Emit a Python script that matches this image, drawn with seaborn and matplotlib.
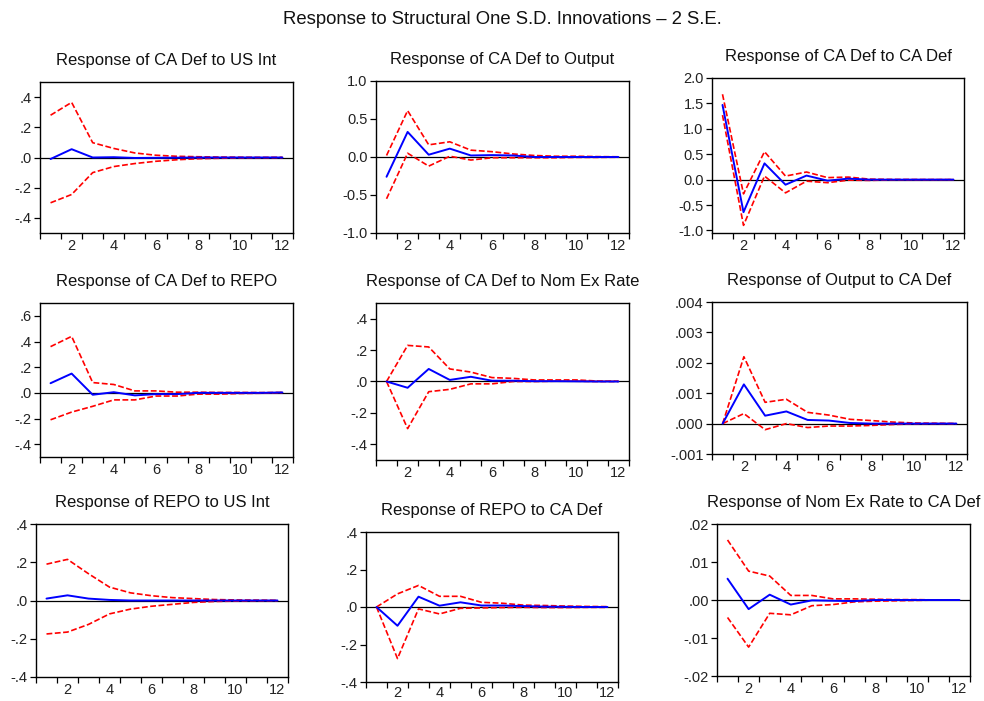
import numpy as np
import pandas as pd
import matplotlib
matplotlib.use("Agg")
import matplotlib.pyplot as plt
import seaborn as sns

# ---------------- data ----------------
steps = list(range(1, 13))

suptitle = "Response to Structural One S.D. Innovations \u2013 2 S.E."

titles = [
    "Response of CA Def to US Int",
    "Response of CA Def to Output",
    "Response of CA Def to CA Def",
    "Response of CA Def to REPO",
    "Response of CA Def to Nom Ex Rate",
    "Response of Output to CA Def",
    "Response of REPO to US Int",
    "Response of REPO to CA Def",
    "Response of Nom Ex Rate to CA Def",
]

p1_resp  = [-0.01, 0.055, 0.0, 0.002, -0.003, -0.002, -0.001, 0.0, 0.0, 0.0, 0.0, 0.0]
p1_upper = [0.28, 0.365, 0.098, 0.06, 0.03, 0.015, 0.008, 0.005, 0.003, 0.002, 0.001, 0.001]
p1_lower = [-0.30, -0.245, -0.10, -0.06, -0.04, -0.025, -0.015, -0.008, -0.005, -0.003, -0.002, -0.001]

p2_resp  = [-0.26, 0.33, 0.03, 0.11, 0.02, 0.025, 0.02, 0.0, 0.0, 0.0, 0.0, 0.0]
p2_upper = [0.02, 0.61, 0.16, 0.20, 0.09, 0.07, 0.04, 0.02, 0.01, 0.01, 0.005, 0.003]
p2_lower = [-0.55, 0.05, -0.12, 0.01, -0.04, -0.01, -0.01, -0.01, -0.01, -0.005, -0.005, -0.003]

p3_resp  = [1.47, -0.64, 0.32, -0.10, 0.08, -0.02, 0.02, 0.0, 0.0, 0.0, 0.0, 0.0]
p3_upper = [1.68, -0.28, 0.55, 0.07, 0.15, 0.04, 0.05, 0.01, 0.005, 0.003, 0.002, 0.001]
p3_lower = [1.27, -0.90, 0.07, -0.26, -0.03, -0.06, -0.01, -0.015, -0.005, -0.003, -0.002, -0.001]

p4_resp  = [0.075, 0.15, -0.015, 0.005, -0.02, -0.01, -0.01, 0.0, 0.0, 0.0, 0.0, 0.003]
p4_upper = [0.36, 0.44, 0.08, 0.065, 0.015, 0.015, 0.005, 0.005, 0.003, 0.003, 0.002, 0.003]
p4_lower = [-0.21, -0.15, -0.105, -0.055, -0.055, -0.025, -0.025, -0.01, -0.01, -0.005, -0.003, 0.002]

p5_resp  = [0.0, -0.04, 0.08, 0.01, 0.03, 0.005, 0.005, 0.002, 0.002, 0.001, 0.0, 0.0]
p5_upper = [0.0, 0.23, 0.22, 0.08, 0.06, 0.025, 0.02, 0.01, 0.01, 0.01, 0.003, 0.002]
p5_lower = [0.0, -0.30, -0.065, -0.05, -0.015, -0.015, 0.0, 0.0, 0.002, 0.002, 0.0, 0.0]

p6_resp  = [0.0, 0.00129, 0.00026, 0.0004, 0.00012, 0.0001, 0.00002, 0.0, 0.0, 0.0, 0.0, 0.0]
p6_upper = [0.0, 0.0022, 0.0007, 0.0008, 0.00037, 0.00028, 0.00014, 0.0001, 0.00005, 0.00002, 0.00001, 0.0]
p6_lower = [0.0, 0.00033, -0.0002, 0.0, -0.00013, -0.00008, -0.00008, -0.00006, -0.00003, -0.00001, 0.0, 0.0]

p7_resp  = [0.01, 0.027, 0.01, 0.003, 0.0, 0.0, 0.0, 0.0, 0.0, 0.0, 0.0, 0.0]
p7_upper = [0.19, 0.215, 0.14, 0.07, 0.04, 0.025, 0.015, 0.01, 0.005, 0.003, 0.002, 0.001]
p7_lower = [-0.175, -0.165, -0.125, -0.07, -0.045, -0.03, -0.02, -0.01, -0.005, -0.003, -0.002, -0.001]

p8_resp  = [0.0, -0.10, 0.055, 0.007, 0.025, 0.008, 0.008, 0.005, 0.002, 0.001, 0.0, 0.0]
p8_upper = [0.0, 0.07, 0.115, 0.057, 0.057, 0.025, 0.02, 0.01, 0.008, 0.005, 0.003, 0.002]
p8_lower = [0.0, -0.275, -0.01, -0.037, -0.007, -0.005, -0.003, -0.002, -0.003, -0.003, -0.002, -0.002]

p9_resp  = [0.0056, -0.0024, 0.0014, -0.0012, -0.0001, -0.0002, -0.0003, 0.0, 0.0, 0.0, 0.0, 0.0]
p9_upper = [0.0158, 0.0076, 0.0063, 0.0012, 0.0012, 0.0003, 0.0003, 0.0002, 0.0001, 0.0001, 0.0, 0.0]
p9_lower = [-0.0046, -0.0124, -0.0035, -0.0039, -0.0015, -0.0012, -0.0005, -0.0003, -0.0002, -0.0001, 0.0, 0.0]

x_tick_labels = ["2", "4", "6", "8", "10", "12"]

yt_pm4 = [-0.4, -0.2, 0.0, 0.2, 0.4]
yl_pm4 = ["-.4", "-.2", ".0", ".2", ".4"]
yt_p2 = [-1.0, -0.5, 0.0, 0.5, 1.0]
yl_p2 = ["-1.0", "-0.5", "0.0", "0.5", "1.0"]
yt_p3 = [-1.0, -0.5, 0.0, 0.5, 1.0, 1.5, 2.0]
yl_p3 = ["-1.0", "-0.5", "0.0", "0.5", "1.0", "1.5", "2.0"]
yt_p4 = [-0.4, -0.2, 0.0, 0.2, 0.4, 0.6]
yl_p4 = ["-.4", "-.2", ".0", ".2", ".4", ".6"]
yt_p6 = [-0.001, 0.0, 0.001, 0.002, 0.003, 0.004]
yl_p6 = ["-.001", ".000", ".001", ".002", ".003", ".004"]
yt_p9 = [-0.02, -0.01, 0.0, 0.01, 0.02]
yl_p9 = ["-.02", "-.01", ".00", ".01", ".02"]

# ---------------- styling ----------------
sns.set_style("ticks")
plt.rcParams['font.family'] = ['Liberation Sans', 'DejaVu Sans']

W, H = 984, 701
fig = plt.figure(figsize=(W / 100, H / 100), dpi=100)

# pixel boxes: (left, top, right, bottom)
boxes = [
    (40, 82, 293, 233), (376, 81, 629, 233), (712, 78, 964, 233),
    (40, 303, 293, 457), (376, 303, 629, 460), (712, 302, 967, 454),
    (36, 524, 288, 677), (366, 532, 618, 682), (717, 524, 970, 676),
]

panels = [
    (p1_resp, p1_upper, p1_lower, yt_pm4, yl_pm4, (-0.5, 0.5)),
    (p2_resp, p2_upper, p2_lower, yt_p2, yl_p2, (-1.0, 1.0)),
    (p3_resp, p3_upper, p3_lower, yt_p3, yl_p3, (-1.05, 2.0)),
    (p4_resp, p4_upper, p4_lower, yt_p4, yl_p4, (-0.5, 0.7)),
    (p5_resp, p5_upper, p5_lower, yt_pm4, yl_pm4, (-0.5, 0.5)),
    (p6_resp, p6_upper, p6_lower, yt_p6, yl_p6, (-0.001, 0.004)),
    (p7_resp, p7_upper, p7_lower, yt_pm4, yl_pm4, (-0.4, 0.4)),
    (p8_resp, p8_upper, p8_lower, yt_pm4, yl_pm4, (-0.4, 0.4)),
    (p9_resp, p9_upper, p9_lower, yt_p9, yl_p9, (-0.02, 0.02)),
]

for i, (box, (resp, up, lo, yt, yl, ylim)) in enumerate(zip(boxes, panels)):
    l, t, r, b = box
    ax = fig.add_axes([l / W, 1 - b / H, (r - l) / W, (b - t) / H])
    df = pd.DataFrame({"step": steps, "resp": resp, "upper": up, "lower": lo})
    ax.axhline(0, color="black", lw=0.9, zorder=1)
    sns.lineplot(data=df, x="step", y="upper", ax=ax, color="#FF0000",
                 lw=1.2, linestyle=(0, (3.5, 1.5)), zorder=2)
    sns.lineplot(data=df, x="step", y="lower", ax=ax, color="#FF0000",
                 lw=1.2, linestyle=(0, (3.5, 1.5)), zorder=2)
    sns.lineplot(data=df, x="step", y="resp", ax=ax, color="#0000FF",
                 lw=1.4, zorder=3)
    ax.set_xlim(0.5, 12.5)
    ax.set_ylim(*ylim)
    ax.set_xlabel("")
    ax.set_ylabel("")
    # x ticks between steps, labels at even steps
    ax.set_xticks(np.arange(0.5, 13.0, 1.0))
    ax.set_xticklabels([])
    ax.set_xticks([2, 4, 6, 8, 10, 12], minor=True)
    ax.set_xticklabels(x_tick_labels, minor=True)
    ax.tick_params(axis="x", which="major", direction="out", length=4, width=0.9, color="black")
    ax.tick_params(axis="x", which="minor", length=0, labelsize=10.5,
                   pad=3 if i == 7 else 4, labelcolor="#222222")
    ax.set_yticks(yt)
    ax.set_yticklabels(yl)
    ax.tick_params(axis="y", direction="out", length=4, width=0.9, color="black",
                   labelsize=10.5, pad=2, labelcolor="#222222")
    for s in ax.spines.values():
        s.set_visible(True)
        s.set_color("black")
        s.set_linewidth(1.0)
    ax.set_title(titles[i], fontsize=12, pad=12, color="#111111")

fig.text(502 / W, 1 - 20 / H, suptitle, ha="center", va="center",
         fontsize=13.3, color="#111111")

fig.savefig("out.png", dpi=100)
